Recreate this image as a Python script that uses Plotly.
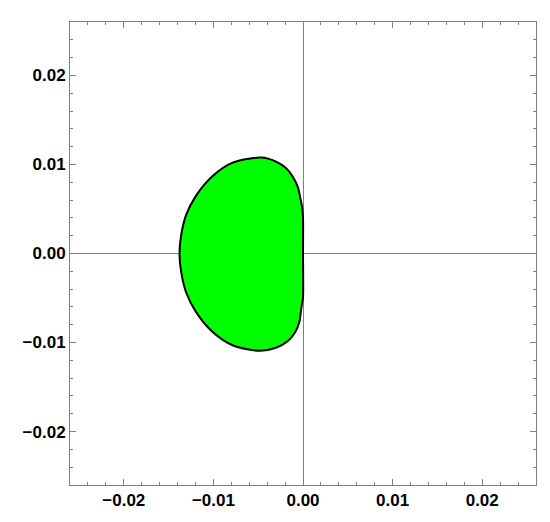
import plotly.graph_objects as go

# boundary of the region (clockwise from the top)
bx = [-0.00468, -0.00301, -0.0019, -0.00116, -0.0006, -0.0003, -0.0001, 0.0,
      0.0, 0.0, -0.0001, -0.0002, -0.00041, -0.00086, -0.00172, -0.00301,
      -0.00487, -0.00785, -0.01008, -0.01193, -0.01305, -0.01362, -0.01378,
      -0.01362, -0.01305, -0.01193, -0.01008, -0.00785, -0.00468]
by = [0.01077, 0.01032, 0.00959, 0.00865, 0.00754, 0.00624, 0.0052, 0.004,
      0.0, -0.005, -0.0056, -0.00621, -0.00769, -0.00881, -0.00986, -0.01059,
      -0.01093, -0.0103, -0.00881, -0.00658, -0.00435, -0.0019, 0.0,
      0.0019, 0.0043, 0.0065, 0.0087, 0.0102, 0.01077]

tick_vals = [-0.02, -0.01, 0.0, 0.01, 0.02]
tick_text = ["\u22120.02", "\u22120.01", "0.00", "0.01", "0.02"]
lim = [-0.026, 0.026]

fig = go.Figure()
fig.add_trace(go.Scatter(
    x=bx, y=by, mode="lines", fill="toself",
    fillcolor="#00ff00",
    line=dict(color="black", width=2, shape="spline", smoothing=0.8),
    hoverinfo="skip", showlegend=False,
))

axis = dict(
    range=lim,
    tickvals=tick_vals,
    ticktext=tick_text,
    ticks="inside",
    ticklen=6,
    tickcolor="#808080",
    showline=True,
    linecolor="#808080",
    linewidth=1,
    mirror="allticks",
    showgrid=False,
    zeroline=True,
    zerolinecolor="#808080",
    zerolinewidth=1,
    layer="above traces",
    tickfont=dict(family="Liberation Sans", size=17, color="black", weight="bold"),
    minor=dict(ticks="inside", ticklen=3, dtick=0.002, tick0=0, tickcolor="#808080", showgrid=False),
)

# page body has an 8px margin, so the figure is a bit smaller than the window
fig.update_layout(
    width=542, height=514,
    margin=dict(l=62, r=14, t=14, b=34),
    paper_bgcolor="white",
    plot_bgcolor="white",
    xaxis=axis,
    yaxis=axis,
)

fig.write_html("out.html")
